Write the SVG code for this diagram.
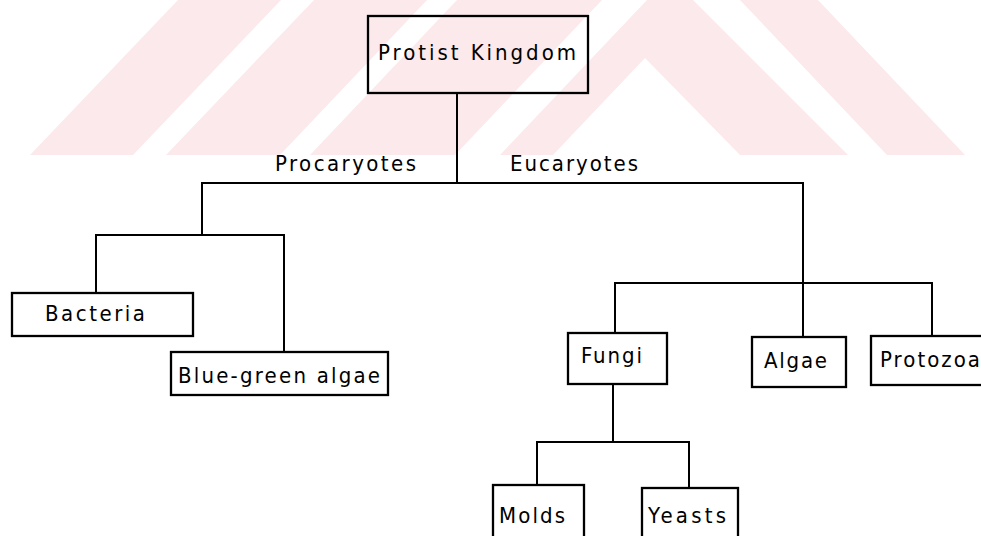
<svg xmlns="http://www.w3.org/2000/svg" width="981" height="536" viewBox="0 0 981 536">
<style>
.wm{fill:#fce9ec;stroke:none}
.box{fill:none;stroke:#000;stroke-width:2.3}
.ln{fill:none;stroke:#000;stroke-width:2}
text{font-family:"DejaVu Sans Condensed","DejaVu Sans","Liberation Sans",sans-serif;font-size:22px;fill:#000}
</style>
<rect width="981" height="536" fill="#fff"/>
<g id="watermark">
<polygon class="wm" points="30,155 133,155 281,0 178,0"/>
<polygon class="wm" points="166,155 280,155 427,0 314,0"/>
<polygon class="wm" points="310,155 455,155 602,0 457,0"/>
<path class="wm" fill-rule="evenodd" d="M500,155 L647,0 L693,0 L848,155 Z M553,155 L645,58 L740,155 Z"/>
<polygon class="wm" points="887,155 965,155 818,0 740,0"/>
</g>
<g id="connectors">
<path class="ln" d="M457,93 V183"/>
<path class="ln" d="M202,235 V183 H803 V283"/>
<path class="ln" d="M96,293 V235 H284 V352"/>
<path class="ln" d="M615,333 V283 H932 V336"/>
<path class="ln" d="M803,283 V337"/>
<path class="ln" d="M613,384 V442"/>
<path class="ln" d="M537,485 V442 H689 V488"/>
</g>
<g id="label-procaryotes"><text x="275" y="171" textLength="141" lengthAdjust="spacing">Procaryotes</text></g>
<g id="label-eucaryotes"><text x="510" y="171" textLength="128" lengthAdjust="spacing">Eucaryotes</text></g>
<g id="node-protist">
<rect class="box" x="368" y="16" width="220" height="77"/>
<text x="378" y="60" textLength="198" lengthAdjust="spacing">Protist Kingdom</text>
</g>
<g id="node-bacteria">
<rect class="box" x="12" y="293" width="181" height="43"/>
<text x="45" y="321" textLength="100" lengthAdjust="spacing">Bacteria</text>
</g>
<g id="node-bluegreen">
<rect class="box" x="171" y="352" width="217" height="43"/>
<text x="178" y="383" textLength="202" lengthAdjust="spacing">Blue-green algae</text>
</g>
<g id="node-fungi">
<rect class="box" x="568" y="333" width="99" height="51"/>
<text x="581" y="363" textLength="61" lengthAdjust="spacing">Fungi</text>
</g>
<g id="node-algae">
<rect class="box" x="752" y="337" width="94" height="50"/>
<text x="764" y="368" textLength="63" lengthAdjust="spacing">Algae</text>
</g>
<g id="node-protozoa">
<rect class="box" x="871" y="336" width="120" height="49"/>
<text x="880" y="367" textLength="100" lengthAdjust="spacing">Protozoa</text>
</g>
<g id="node-molds">
<rect class="box" x="493" y="485" width="91" height="60"/>
<text x="499" y="523" textLength="66" lengthAdjust="spacing">Molds</text>
</g>
<g id="node-yeasts">
<rect class="box" x="642" y="488" width="96" height="60"/>
<text x="648" y="523" textLength="78" lengthAdjust="spacing">Yeasts</text>
</g>
</svg>
